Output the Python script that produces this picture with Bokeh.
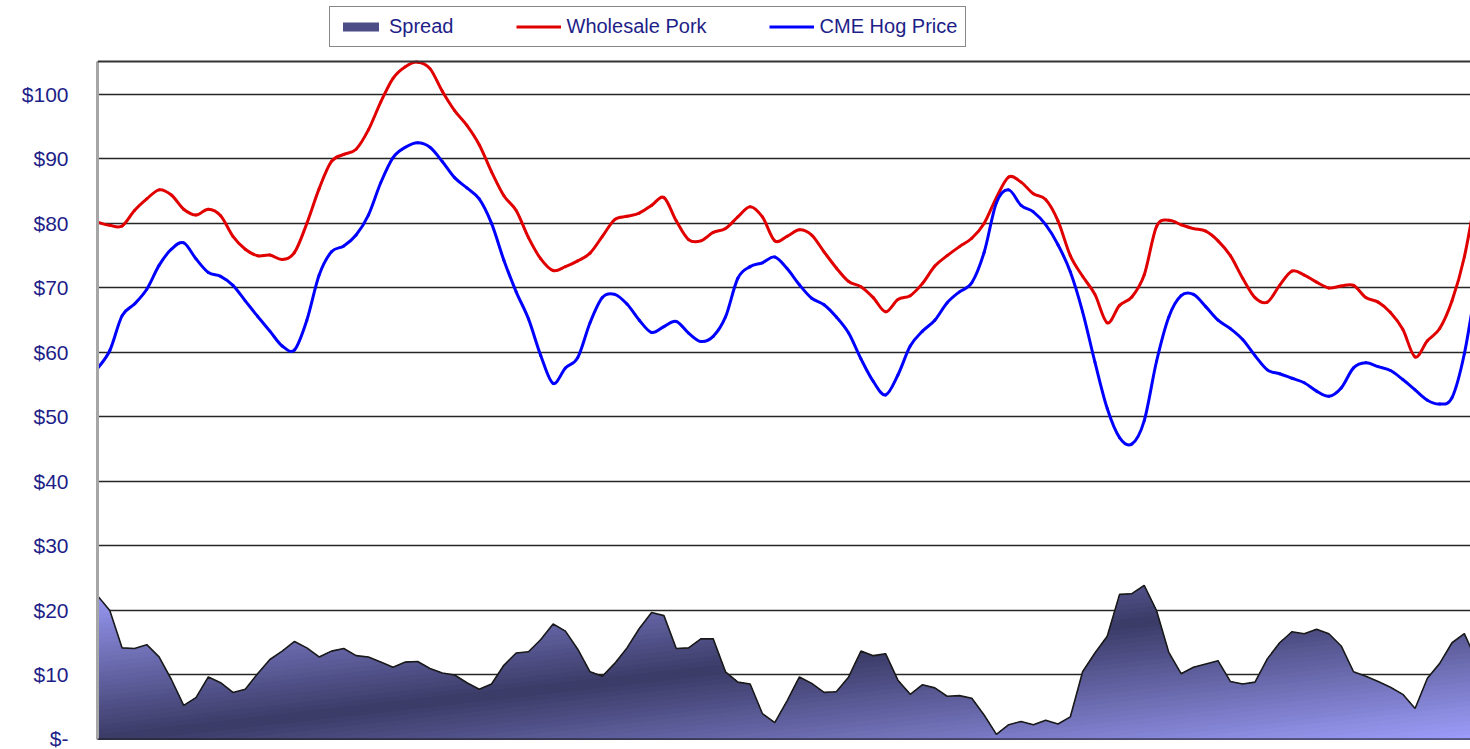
import numpy as np
from bokeh.plotting import figure
from bokeh.models import Range1d, FixedTicker, Span, Legend, LegendItem
from bokeh.embed import file_html
from bokeh.resources import INLINE

# ---------------- data ----------------
months = list(range(113))

wholesale_pork = [
    80.2, 79.7, 79.6, 82.0, 83.8, 85.2, 84.4, 82.2, 81.3, 82.2,
    81.2, 78.0, 76.0, 75.0, 75.1, 74.4, 75.5, 80.0, 85.4, 89.6,
    90.7, 91.5, 94.5, 98.8, 102.5, 104.3, 105.0, 104.0, 100.5, 97.5,
    95.2, 92.2, 88.0, 84.3, 82.0, 77.8, 74.5, 72.7, 73.3, 74.2,
    75.4, 78.0, 80.6, 81.1, 81.6, 82.8, 84.0, 80.4, 77.5, 77.3,
    78.6, 79.2, 81.0, 82.6, 81.0, 77.3, 78.0, 79.0, 78.2, 75.6,
    73.1, 71.0, 70.2, 68.5, 66.3, 68.2, 68.8, 70.7, 73.4, 75.0,
    76.4, 77.7, 80.0, 84.0, 87.2, 86.4, 84.6, 83.7, 80.4, 75.0,
    71.8, 69.0, 64.6, 67.3, 68.6, 72.0, 79.5, 80.5, 79.8, 79.2,
    78.8, 77.3, 75.0, 71.5, 68.5, 67.8, 70.4, 72.6, 72.0, 70.9,
    70.0, 70.3, 70.4, 68.5, 67.8, 66.2, 63.6, 59.3, 61.8, 63.7,
    68.0, 74.8, 85.0,
]

cme_hog_price = [
    57.5, 60.3, 65.7, 67.5, 69.8, 73.5, 76.0, 77.0, 74.5, 72.4,
    71.8, 70.4, 68.0, 65.6, 63.3, 61.0, 60.4, 65.0, 72.0, 75.6,
    76.5, 78.2, 81.3, 86.3, 90.2, 91.8, 92.5, 91.8, 89.6, 87.1,
    85.5, 83.8, 80.0, 74.3, 69.4, 65.2, 59.5, 55.2, 57.6, 59.2,
    64.6, 68.5, 69.0, 67.5, 65.0, 63.1, 64.0, 64.8, 63.0, 61.7,
    62.5, 65.5, 71.5, 73.3, 73.9, 74.8, 73.0, 70.5, 68.4, 67.4,
    65.5, 63.0, 59.0, 55.5, 53.4, 56.5, 61.0, 63.3, 65.0, 67.7,
    69.4, 70.8, 75.5, 83.2, 85.2, 82.8, 81.8, 79.8, 76.7, 72.5,
    66.3, 58.5, 51.3, 46.8, 45.8, 49.4, 58.6, 65.5, 68.8, 69.0,
    67.1, 65.0, 63.7, 62.0, 59.5, 57.3, 56.7, 56.0, 55.3, 54.0,
    53.2, 54.5, 57.6, 58.4, 57.8, 57.2, 55.8, 54.2, 52.6, 52.0,
    53.0, 59.8, 71.0,
]

spread = [
    22.3, 20.0, 14.2, 14.1, 14.7, 12.8, 9.3, 5.3, 6.5, 9.7,
    8.8, 7.3, 7.8, 10.2, 12.4, 13.7, 15.2, 14.2, 12.8, 13.7,
    14.1, 13.0, 12.8, 12.0, 11.2, 12.0, 12.1, 11.0, 10.3, 10.0,
    8.8, 7.8, 8.6, 11.5, 13.4, 13.6, 15.5, 17.9, 16.8, 14.0,
    10.5, 9.8, 11.8, 14.2, 17.2, 19.7, 19.2, 14.1, 14.2, 15.6,
    15.6, 10.5, 8.9, 8.6, 4.0, 2.6, 6.0, 9.7, 8.7, 7.3,
    7.4, 9.7, 13.7, 13.0, 13.3, 9.2, 7.0, 8.5, 8.0, 6.7,
    6.8, 6.4, 3.8, 0.8, 2.3, 2.8, 2.3, 3.0, 2.4, 3.5,
    10.5, 13.4, 16.0, 22.5, 22.6, 23.9, 20.0, 13.5, 10.2, 11.2,
    11.7, 12.2, 9.0, 8.6, 8.9, 12.5, 15.0, 16.7, 16.4, 17.1,
    16.4, 14.5, 10.5, 9.8, 9.0, 8.1, 7.0, 4.8, 9.5, 11.8,
    15.0, 16.4, 12.2,
]

y_ticks = [0, 10, 20, 30, 40, 50, 60, 70, 80, 90, 100]
y_tick_labels = ["$-", "$10", "$20", "$30", "$40", "$50", "$60", "$70", "$80", "$90", "$100"]
series_names = ["Spread", "Wholesale Pork", "CME Hog Price"]

# ---------------- styling ----------------
FONT = "Liberation Sans"
TEXT_COLOR = "#1e1e88"
W, H = 1470, 749
BORDER_LEFT, BORDER_BOTTOM = 97, 10
PLOT_TOP_PX = 61              # pixel row of the top edge of the value area
X_END = 111.5
Y_TOP = 105.1
FRAME_H = H - BORDER_BOTTOM
Y_EXT = Y_TOP * FRAME_H / (FRAME_H - PLOT_TOP_PX)   # room above the plot area for the legend

p = figure(width=W, height=H, output_backend="svg", toolbar_location=None,
           x_range=Range1d(0, X_END), y_range=Range1d(0, Y_EXT),
           min_border_left=BORDER_LEFT, min_border_right=0, min_border_top=0,
           min_border_bottom=BORDER_BOTTOM)
p.background_fill_color = "white"
p.border_fill_color = "white"
p.outline_line_color = None
p.xaxis.visible = False
p.xgrid.visible = False

ticker = FixedTicker(ticks=y_ticks)
yax = p.yaxis[0]
yax.ticker = ticker
yax.bounds = (0, Y_TOP)
yax.major_label_overrides = {t: l for t, l in zip(y_ticks, y_tick_labels)}
yax.major_tick_line_color = None
yax.minor_tick_line_color = None
yax.major_tick_out = 0
yax.major_tick_in = 0
yax.axis_line_color = "#a6a6a6"
yax.axis_line_width = 3
yax.major_label_standoff = 29
yax.major_label_text_font = FONT
yax.major_label_text_font_size = "21px"
yax.major_label_text_color = TEXT_COLOR

p.ygrid.ticker = ticker
p.ygrid.grid_line_color = "#262626"
p.ygrid.grid_line_width = 1.6

p.add_layout(Span(location=Y_TOP, dimension="width", line_color="#333333", line_width=2))

# ---------------- spread area with diagonal gradient ----------------
area = p.varea(x=months, y1=[0] * len(months), y2=spread, fill_color="#4c4c86")

poly_x = [months[0]] + months + [months[-1]]
poly_y = [0.0] + spread + [0.0]
YB = max(spread)


def clip_half_plane(px, py, c):
    ox, oy = [], []
    n = len(px)
    for i in range(n):
        x1, y1 = px[i], py[i]
        x2, y2 = px[(i + 1) % n], py[(i + 1) % n]
        f1 = x1 / X_END - y1 / YB - c
        f2 = x2 / X_END - y2 / YB - c
        if f1 >= 0:
            ox.append(x1)
            oy.append(y1)
        if (f1 >= 0) != (f2 >= 0):
            s = f1 / (f1 - f2)
            ox.append(x1 + s * (x2 - x1))
            oy.append(y1 + s * (y2 - y1))
    return ox, oy


light = np.array([158, 158, 252])
dark = np.array([58, 58, 102])
K = 64
gx, gy, gc = [], [], []
for k in range(K):
    cx, cy = clip_half_plane(poly_x, poly_y, 2 * (k / K) - 1)
    if len(cx) < 3:
        continue
    tm = (k + 0.5) / K
    w = 1 - abs(2 * tm - 1)
    col = light + (dark - light) * w
    gx.append(cx)
    gy.append(cy)
    gc.append("#%02x%02x%02x" % tuple(int(round(v)) for v in col))
p.patches(xs=gx, ys=gy, fill_color=gc, line_color=None)

p.line(months, spread, line_color="#1a1a1a", line_width=1.6)
p.add_layout(Span(location=0, dimension="width", line_color="#1a1a1a", line_width=2, level="overlay"))


# ---------------- smoothed price lines (Bezier through each data point) ----------------
def smooth_segments(xs, ys):
    P = np.column_stack([np.asarray(xs, float), np.asarray(ys, float)])
    n = len(P)
    d = dict(x0=[], y0=[], x1=[], y1=[], cx0=[], cy0=[], cx1=[], cy1=[])
    for i in range(n - 1):
        pm, p0, p1, p2 = P[max(i - 1, 0)], P[i], P[i + 1], P[min(i + 2, n - 1)]
        c0 = p0 + (p1 - pm) / 6.0
        c1 = p1 - (p2 - p0) / 6.0
        d["x0"].append(p0[0]); d["y0"].append(p0[1])
        d["x1"].append(p1[0]); d["y1"].append(p1[1])
        d["cx0"].append(c0[0]); d["cy0"].append(c0[1])
        d["cx1"].append(c1[0]); d["cy1"].append(c1[1])
    return d


RED, BLUE = "#e00000", "#0000ff"
p.bezier(**smooth_segments(months, wholesale_pork), line_color=RED, line_width=3, line_cap="round")
p.bezier(**smooth_segments(months, cme_hog_price), line_color=BLUE, line_width=3, line_cap="round")

# legend swatches for the two lines (single-point lines draw nothing in the plot)
r_pork = p.line(x=months[:1], y=wholesale_pork[:1], line_color=RED, line_width=3)
r_hog = p.line(x=months[:1], y=cme_hog_price[:1], line_color=BLUE, line_width=3)

legend = Legend(items=[LegendItem(label=series_names[0], renderers=[area]),
                       LegendItem(label=series_names[1], renderers=[r_pork]),
                       LegendItem(label=series_names[2], renderers=[r_hog])],
                orientation="horizontal", location=(232, FRAME_H - 47), margin=0, padding=8,
                spacing=62, glyph_width=45, glyph_height=11, label_standoff=6,
                label_text_font=FONT, label_text_font_size="20px", label_text_color=TEXT_COLOR,
                border_line_color="#111111", border_line_width=1.5,
                background_fill_color="white", background_fill_alpha=1.0)
p.add_layout(legend, "center")

open("out.html", "w").write(file_html(p, INLINE))
